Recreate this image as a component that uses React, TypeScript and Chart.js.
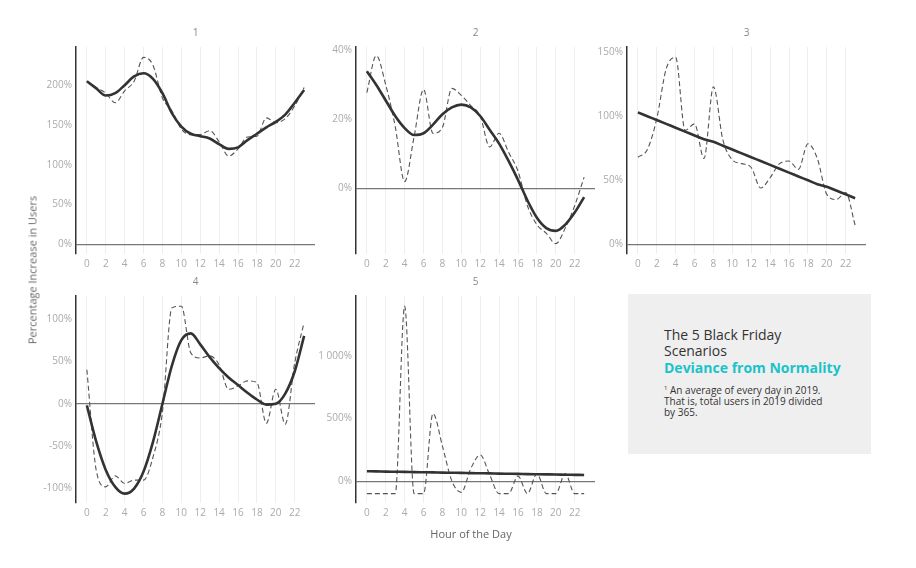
import React, { useEffect, useRef } from "react";
import { Chart, registerables } from "chart.js";
Chart.register(...registerables);

const HOURS = [0, 1, 2, 3, 4, 5, 6, 7, 8, 9, 10, 11, 12, 13, 14, 15, 16, 17, 18, 19, 20, 21, 22, 23];
const X_TICKS = [0, 2, 4, 6, 8, 10, 12, 14, 16, 18, 20, 22];

const S1_RAW = [205, 197, 190, 178, 193, 205, 235, 225, 184, 168, 145, 138, 138, 143, 129, 111, 120, 135, 136, 159, 153, 158, 174, 197];
const S1_FIT = [205, 196, 187, 190, 200, 211, 215, 208, 190, 165, 148, 139, 136, 133, 126, 120, 122, 131, 139, 147, 154, 163, 178, 194];
const S2_RAW = [27.8, 38.5, 30, 18, 2, 15, 28.7, 16, 17.7, 29, 27, 24, 21, 12, 16, 10.5, 5, -5, -10.5, -13, -16, -11.5, -5, 3.3];
const S2_FIT = [34, 30, 25.5, 21, 17.5, 15.5, 16, 18.5, 21.5, 23.5, 24.3, 23.5, 21, 17, 13, 8, 2.5, -3.5, -8.5, -11.5, -12.3, -10.5, -7, -2.5];
const S3_RAW = [68, 74, 98, 137, 146, 89, 94, 67, 123, 81.5, 66, 63, 60, 44, 52, 63, 65, 58.5, 78.5, 67, 39, 35, 40.5, 15];
const S3_FIT = [103, 100, 97, 94, 91, 88, 85, 82, 80, 77, 74, 71, 68, 65, 62, 59, 56, 53, 50, 47, 45, 42, 39, 36];
const S4_RAW = [40, -79, -98, -85, -94, -90, -90, -63, -10, 113, 115, 60, 54, 56.5, 46, 17, 21, 27, 25, -23, 17, -24, 48, 96];
const S4_FIT = [-2, -45, -78, -98, -106, -100, -80, -45, 0, 45, 75, 83, 70, 55, 42, 31, 22, 13, 5, -1, 0, 12, 38, 80];
const S5_RAW = [-100, -100, -100, -100, 1400, -100, -100, 540, 280, 0, -90, 100, 210, 50, -100, -100, 40, -100, 60, -100, -100, 60, -100, -100];
const S5_FIT = [79, 78, 76, 75, 74, 72, 71, 70, 68, 67, 66, 64, 63, 62, 60, 59, 58, 56, 55, 54, 53, 51, 50, 49];

const Y1_TICKS = [0, 50, 100, 150, 200];
const Y2_TICKS = [0, 20, 40];
const Y3_TICKS = [0, 50, 100, 150];
const Y4_TICKS = [-100, -50, 0, 50, 100];
const Y5_TICKS = [0, 500, 1000];

const PANEL_TITLES = ["1", "2", "3", "4", "5"];

const FONT = "'Open Sans', 'Noto Sans', sans-serif";
const PLOT_W = 239;
const PLOT_H = 211;
const PAD_L = 52;
const PAD_T = 6;
const PAD_R = 6;
const PAD_B = 24;

type Panel = {
  title: string;
  raw: number[];
  fit: number[];
  yMin: number;
  yMax: number;
  yTicks: number[];
  left: number;
  top: number;
};

const PANELS: Panel[] = [
  { title: PANEL_TITLES[0], raw: S1_RAW, fit: S1_FIT, yMin: -12, yMax: 248, yTicks: Y1_TICKS, left: 76, top: 43 },
  { title: PANEL_TITLES[1], raw: S2_RAW, fit: S2_FIT, yMin: -19, yMax: 41, yTicks: Y2_TICKS, left: 356, top: 43 },
  { title: PANEL_TITLES[2], raw: S3_RAW, fit: S3_FIT, yMin: -7.5, yMax: 154, yTicks: Y3_TICKS, left: 627, top: 43 },
  { title: PANEL_TITLES[3], raw: S4_RAW, fit: S4_FIT, yMin: -117, yMax: 127, yTicks: Y4_TICKS, left: 76, top: 292 },
  { title: PANEL_TITLES[4], raw: S5_RAW, fit: S5_FIT, yMin: -175, yMax: 1480, yTicks: Y5_TICKS, left: 356, top: 292 },
];

function fmtPct(v: number): string {
  const a = Math.abs(v);
  let s = String(a);
  if (a >= 1000) s = s.replace(/\B(?=(\d{3})+(?!\d))/g, " ");
  return (v < 0 ? "-" : "") + s + "%";
}

function PanelChart({ p }: { p: Panel }) {
  const ref = useRef<HTMLCanvasElement | null>(null);
  const w = PAD_L + PLOT_W + PAD_R;
  const h = PAD_T + PLOT_H + PAD_B;
  useEffect(() => {
    if (!ref.current) return;
    const chart = new Chart(ref.current, {
      type: "line",
      data: {
        datasets: [
          {
            data: HOURS.map((x, i) => ({ x, y: p.fit[i] })),
            borderColor: "#333333",
            borderWidth: 2.6,
            pointRadius: 0,
            cubicInterpolationMode: "monotone",
            order: 0,
          },
          {
            data: HOURS.map((x, i) => ({ x, y: p.raw[i] })),
            borderColor: "#555555",
            borderWidth: 1.1,
            borderDash: [5, 3],
            pointRadius: 0,
            cubicInterpolationMode: "monotone",
            order: 1,
          },
        ],
      },
      options: {
        responsive: false,
        animation: false,
        layout: { padding: { top: PAD_T, right: PAD_R, left: 0, bottom: 0 } },
        plugins: { legend: { display: false }, tooltip: { enabled: false } },
        scales: {
          x: {
            type: "linear",
            min: -1.15,
            max: 24.15,
            afterBuildTicks: (s: any) => {
              s.ticks = X_TICKS.map((v) => ({ value: v }));
            },
            afterFit: (s: any) => {
              s.height = PAD_B;
            },
            border: { display: false },
            grid: { color: "#eeeeee", lineWidth: 1, drawTicks: false },
            ticks: {
              color: "#aaaaaa",
              font: { family: FONT, size: 10 },
              padding: 4,
              maxRotation: 0,
              autoSkip: false,
            },
          },
          y: {
            type: "linear",
            min: p.yMin,
            max: p.yMax,
            afterBuildTicks: (s: any) => {
              s.ticks = p.yTicks.map((v) => ({ value: v }));
            },
            afterFit: (s: any) => {
              s.width = PAD_L;
            },
            border: { display: true, color: "#333333", width: 1.5 },
            grid: {
              color: (c: any) => (c.tick && c.tick.value === 0 ? "#777777" : "rgba(0,0,0,0)"),
              lineWidth: 1.2,
              drawTicks: false,
            },
            ticks: {
              color: "#aaaaaa",
              font: { family: FONT, size: 10 },
              padding: 4,
              callback: (v: any) => fmtPct(Number(v)),
            },
          },
        },
      },
    } as any);
    return () => chart.destroy();
  }, [p]);
  return (
    <>
      <div
        style={{
          position: "absolute",
          left: p.left,
          top: p.top - 18,
          width: PLOT_W,
          textAlign: "center",
          fontFamily: FONT,
          fontSize: 10,
          color: "#8a8a8a",
        }}
      >
        {p.title}
      </div>
      <canvas
        ref={ref}
        width={w}
        height={h}
        style={{ position: "absolute", left: p.left - PAD_L, top: p.top - PAD_T, width: w, height: h }}
      />
    </>
  );
}

export default function App() {
  return (
    <div
      style={{
        position: "absolute",
        left: 0,
        top: 0,
        width: 916,
        height: 568,
        background: "#ffffff",
        overflow: "hidden",
        fontFamily: FONT,
      }}
    >
      {PANELS.map((p) => (
        <PanelChart key={p.title} p={p} />
      ))}
      <div
        style={{
          position: "absolute",
          left: 32,
          top: 270,
          transform: "translate(-50%, -50%) rotate(-90deg)",
          whiteSpace: "nowrap",
          fontSize: 11,
          color: "#666666",
        }}
      >
        Percentage Increase in Users
      </div>
      <div
        style={{
          position: "absolute",
          left: 471,
          top: 533,
          transform: "translate(-50%, -50%)",
          whiteSpace: "nowrap",
          fontSize: 11,
          color: "#666666",
        }}
      >
        Hour of the Day
      </div>
      <div
        style={{
          position: "absolute",
          left: 628,
          top: 294,
          width: 243,
          height: 160,
          background: "#efefef",
        }}
      >
        <div style={{ position: "absolute", left: 36, top: 33, width: 200 }}>
          <div style={{ fontSize: 14, lineHeight: "16px", color: "#333333" }}>The 5 Black Friday</div>
          <div style={{ fontSize: 14, lineHeight: "16px", color: "#333333" }}>Scenarios</div>
          <div style={{ fontSize: 14, lineHeight: "17px", color: "#19c3c8", fontWeight: 700 }}>
            Deviance from Normality
          </div>
          <div style={{ fontSize: 10, lineHeight: "11px", color: "#333333", marginTop: 7 }}>
            <sup style={{ fontSize: 6 }}>1</sup> An average of every day in 2019.
            <br />
            That is, total users in 2019 divided
            <br />
            by 365.
          </div>
        </div>
      </div>
    </div>
  );
}
